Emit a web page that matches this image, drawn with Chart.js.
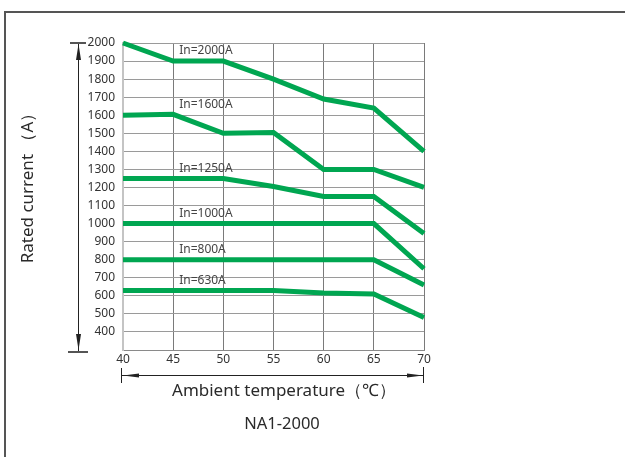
<!DOCTYPE html>
<html>
<head>
<meta charset="utf-8">
<script src="https://cdn.jsdelivr.net/npm/chart.js@4"></script>
<style>
  html, body { margin: 0; padding: 0; background: #fff; }
  #wrap { position: relative; width: 625px; height: 457px; }
</style>
</head>
<body>
<div id="wrap"><canvas id="deratingChart" width="625" height="457"></canvas></div>
<script>
// ambient temperature (°C) and rated current (A) per frame rating
const temps = [40, 45, 50, 55, 60, 65, 70];
const in2000 = [2000, 1900, 1900, 1800, 1690, 1640, 1400];
const in1600 = [1600, 1605, 1500, 1505, 1300, 1300, 1200];
const in1250 = [1250, 1250, 1250, 1205, 1150, 1150, 945];
const in1000 = [1000, 1000, 1000, 1000, 1000, 1000, 750];
const in800 = [800, 800, 800, 800, 800, 800, 660];
const in630 = [630, 630, 630, 630, 615, 610, 480];
const seriesNames = ['In=2000A', 'In=1600A', 'In=1250A', 'In=1000A', 'In=800A', 'In=630A'];
const seriesValues = [in2000, in1600, in1250, in1000, in800, in630];
const yTitle = 'Rated current （A）';
const xTitle = 'Ambient temperature（℃）';
const modelName = 'NA1-2000';

const GREEN = '#00a651';
const FONT = "'Noto Sans', 'Open Sans', sans-serif";

const datasets = seriesValues.map((vals, i) => ({
  label: seriesNames[i],
  data: temps.map((t, j) => ({ x: t, y: vals[j] })),
  borderColor: GREEN,
  borderWidth: 5,
  pointRadius: 0,
  tension: 0,
  borderJoinStyle: 'miter',
  borderCapStyle: 'butt',
  clip: 4,
}));

function arrowHead(ctx, tipX, tipY, dx, dy, len, half) {
  // dx, dy: unit direction the arrow points to
  const bx = tipX - dx * len, by = tipY - dy * len;
  ctx.beginPath();
  ctx.moveTo(tipX, tipY);
  ctx.lineTo(bx - dy * half, by + dx * half);
  ctx.lineTo(bx + dy * half, by - dx * half);
  ctx.closePath();
  ctx.fill();
}

const decorPlugin = {
  id: 'decor',
  beforeDraw: (chart) => {
    const ctx = chart.ctx;
    ctx.save();
    // outer frame (left + top)
    ctx.strokeStyle = '#555';
    ctx.lineWidth = 2;
    ctx.beginPath();
    ctx.moveTo(5, 457);
    ctx.lineTo(5, 12);
    ctx.lineTo(625, 12);
    ctx.stroke();
    ctx.restore();
  },
  afterDatasetsDraw: (chart) => {
    const ctx = chart.ctx;
    const xs = chart.scales.x;
    const ys = chart.scales.y;
    const area = chart.chartArea;
    ctx.save();

    // series labels, just above each curve right of 45 °C
    ctx.fillStyle = '#444';
    ctx.font = '12px ' + FONT;
    ctx.textAlign = 'left';
    ctx.textBaseline = 'middle';
    seriesValues.forEach((vals, i) => {
      const px = xs.getPixelForValue(temps[1]) + 6;
      const py = ys.getPixelForValue(vals[1]) - 10;
      ctx.fillText(seriesNames[i], px, py);
    });

    // vertical dimension arrow
    ctx.strokeStyle = '#222';
    ctx.fillStyle = '#222';
    ctx.lineWidth = 1;
    const ax = 78.5;
    ctx.beginPath();
    ctx.moveTo(ax, area.top);
    ctx.lineTo(ax, area.bottom + 1);
    ctx.stroke();
    ctx.strokeStyle = '#555';
    ctx.lineWidth = 2;
    ctx.beginPath();
    ctx.moveTo(70, area.top);
    ctx.lineTo(86, area.top);
    ctx.moveTo(68, area.bottom + 2);
    ctx.lineTo(88, area.bottom + 2);
    ctx.stroke();
    arrowHead(ctx, ax, area.top + 1, 0, -1, 16, 2.5);
    arrowHead(ctx, ax, area.bottom, 0, 1, 16, 2.5);

    // horizontal dimension arrow
    const ay = 375.5;
    ctx.strokeStyle = '#222';
    ctx.lineWidth = 1;
    ctx.beginPath();
    ctx.moveTo(area.left - 1, ay);
    ctx.lineTo(area.right, ay);
    ctx.moveTo(area.left - 1.5, 368);
    ctx.lineTo(area.left - 1.5, 383);
    ctx.moveTo(area.right - 0.5, 367);
    ctx.lineTo(area.right - 0.5, 383);
    ctx.stroke();
    arrowHead(ctx, area.left, ay, -1, 0, 16, 2);
    arrowHead(ctx, area.right - 1, ay, 1, 0, 16, 2);

    // axis titles and model name
    ctx.fillStyle = '#2a2a2a';
    ctx.textAlign = 'center';
    ctx.textBaseline = 'middle';
    ctx.font = '17px ' + FONT;
    ctx.fillText(xTitle, 284, 391);
    ctx.font = '16.5px ' + FONT;
    ctx.fillText(modelName, 282, 424);
    ctx.save();
    ctx.translate(28, 184);
    ctx.rotate(-Math.PI / 2);
    ctx.font = '17px ' + FONT;
    ctx.fillText(yTitle, 0, 0);
    ctx.restore();

    ctx.restore();
  },
};

new Chart(document.getElementById('deratingChart').getContext('2d'), {
  type: 'line',
  data: { datasets },
  options: {
    responsive: false,
    animation: false,
    layout: { padding: { left: 0, top: 43, right: 201, bottom: 87 } },
    scales: {
      x: {
        type: 'linear',
        min: 40,
        max: 70,
        afterFit: (scale) => { scale.height = 20; },
        ticks: {
          stepSize: 5,
          color: '#333',
          font: { family: FONT, size: 12 },
          padding: 2,
        },
        grid: { color: '#7a7a7a', lineWidth: 1, drawTicks: false },
        border: { color: '#8a8a8a', width: 1 },
      },
      y: {
        min: 300,
        max: 2000,
        afterFit: (scale) => { scale.width = 123; },
        ticks: {
          stepSize: 100,
          color: '#333',
          font: { family: FONT, size: 12 },
          padding: 8,
          callback: (v) => (v === 300 ? '' : v),
        },
        grid: { color: '#9a9a9a', lineWidth: 1, drawTicks: false },
        border: { color: '#c4c4c4', width: 2 },
      },
    },
    plugins: {
      legend: { display: false },
      tooltip: { enabled: false },
    },
  },
  plugins: [decorPlugin],
});
</script>
</body>
</html>
